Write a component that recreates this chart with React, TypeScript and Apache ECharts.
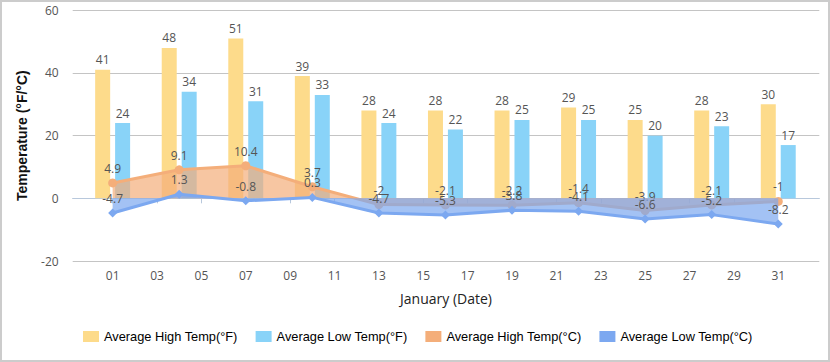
import React, { useEffect, useRef } from "react";
import * as echarts from "echarts";

const days = [1, 4, 7, 10, 13, 16, 19, 22, 25, 28, 31];
const highF = [41, 48, 51, 39, 28, 28, 28, 29, 25, 28, 30];
const lowF = [24, 34, 31, 33, 24, 22, 25, 25, 20, 23, 17];
const highC = [4.9, 9.1, 10.4, 3.7, -2, -2.1, -2.2, -1.4, -3.9, -2.1, -1];
const lowC = [-4.7, 1.3, -0.8, 0.3, -4.7, -5.3, -3.8, -4.1, -6.6, -5.2, -8.2];
const xTickDays = [1, 3, 5, 7, 9, 11, 13, 15, 17, 19, 21, 23, 25, 27, 29, 31];
const seriesNames = [
  "Average High Temp(°F)",
  "Average Low Temp(°F)",
  "Average High Temp(°C)",
  "Average Low Temp(°C)",
];

const pair = (vals: number[]) => days.map((d, i) => [d, vals[i]]);

export default function App() {
  const ref = useRef<HTMLDivElement>(null);
  useEffect(() => {
    if (!ref.current) return;
    const chart = echarts.init(ref.current, undefined, { renderer: "svg" });
    const labelStyle = {
      show: true,
      position: "top" as const,
      color: "#555",
      fontSize: 12,
      fontFamily: "Open Sans",
      distance: 4,
    };
    chart.setOption({
      animation: false,
      backgroundColor: "#fff",
      grid: { left: 70.7, right: 8.7, top: 8.3, bottom: 99 },
      legend: {
        bottom: 12,
        left: 76,
        itemWidth: 16,
        itemHeight: 11,
        itemGap: 18,
        icon: "rect",
        textStyle: { color: "#000", fontSize: 12.8, fontFamily: "Liberation Sans" },
        data: seriesNames,
      },
      xAxis: {
        type: "value",
        min: -0.8,
        max: 32.85,
        name: "January (Date)",
        nameLocation: "middle",
        nameGap: 30,
        nameTextStyle: { color: "#222", fontSize: 14, fontFamily: "Open Sans" },
        splitLine: { show: false },
        axisLine: { show: true, lineStyle: { color: "#b8c8dc", width: 1 } },
        axisTick: { show: true, length: 5, customValues: xTickDays, lineStyle: { color: "#b8c8dc" } },
        axisLabel: {
          customValues: xTickDays,
          color: "#555",
          fontSize: 12,
          fontFamily: "Open Sans",
          margin: 8,
          formatter: (v: number) => String(v).padStart(2, "0"),
        },
      },
      yAxis: {
        type: "value",
        min: -20,
        max: 60,
        interval: 20,
        name: "Temperature (°F/°C)",
        nameLocation: "middle",
        nameGap: 44,
        nameTextStyle: { color: "#111", fontSize: 14, fontWeight: "bold", fontFamily: "Liberation Sans" },
        axisLine: { show: false },
        axisTick: { show: false },
        splitLine: { lineStyle: { color: "#c4c4c4", width: 1 } },
        axisLabel: { color: "#555", fontSize: 12, fontFamily: "Open Sans", margin: 14 },
      },
      series: [
        {
          name: seriesNames[0],
          type: "bar",
          data: pair(highF),
          barWidth: 15,
          barGap: "33%",
          itemStyle: { color: "#fddb8b" },
          label: labelStyle,
          z: 1,
        },
        {
          name: seriesNames[1],
          type: "bar",
          data: pair(lowF),
          barWidth: 15,
          barGap: "33%",
          itemStyle: { color: "#89d3f8" },
          label: labelStyle,
          z: 1,
        },
        {
          name: seriesNames[2],
          type: "line",
          data: pair(highC),
          symbol: "circle",
          symbolSize: 9,
          lineStyle: { color: "#f4ae7a", width: 3 },
          itemStyle: { color: "#f4ae7a" },
          areaStyle: { color: "#f4ae7a", opacity: 0.7 },
          label: labelStyle,
          z: 3,
        },
        {
          name: seriesNames[3],
          type: "line",
          data: pair(lowC),
          symbol: "diamond",
          symbolSize: 9,
          lineStyle: { color: "#7ca8f0", width: 3 },
          itemStyle: { color: "#7ca8f0" },
          areaStyle: { color: "#7ca8f0", opacity: 0.7 },
          label: labelStyle,
          z: 4,
        },
      ],
    });
    return () => chart.dispose();
  }, []);
  return (
    <div
      style={{
        position: "fixed",
        left: 0,
        top: 0,
        width: 830,
        height: 362,
        boxSizing: "border-box",
        border: "2px solid #cccccc",
        background: "#fff",
      }}
    >
      <div ref={ref} style={{ width: 826, height: 358 }} />
    </div>
  );
}
